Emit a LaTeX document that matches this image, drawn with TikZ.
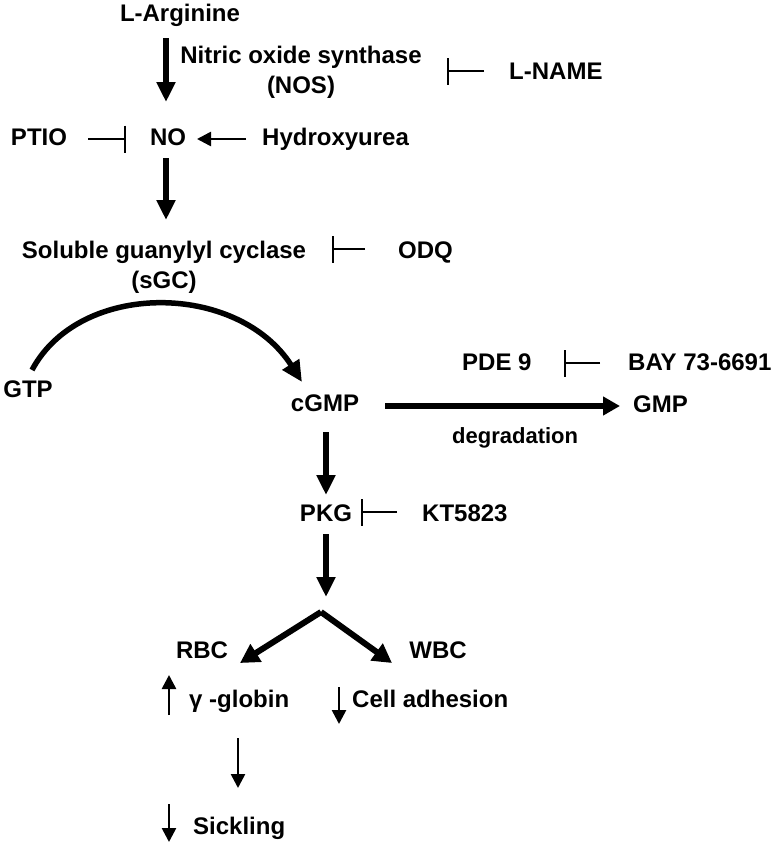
\documentclass[tikz,border=0pt]{standalone}
\usepackage{fontspec}
\setmainfont{Liberation Sans}
\usetikzlibrary{arrows.meta}
\begin{document}
\begin{tikzpicture}[x=1pt,y=-1pt,
  lbl/.style={font=\fontsize{24}{30}\selectfont\bfseries, inner sep=0pt, text height=17pt, text depth=0pt},
  small/.style={font=\fontsize{22}{26}\selectfont\bfseries, inner sep=0pt, text height=16pt, text depth=0pt},
  two/.style={font=\fontsize{24}{30}\selectfont\bfseries, inner sep=0pt, align=center},
  fat/.style={line width=6pt, -{Triangle[width=18pt,length=20pt]}},
  fatmid/.style={line width=6pt, -{Triangle[width=18pt,length=17pt]}},
  fork/.style={line width=6pt, -{Triangle[width=20pt,length=19pt]}},
  slim/.style={line width=2.6pt, -{Triangle[width=14pt,length=14pt]}},
  inh/.style={line width=2pt, -{Bar[width=27pt]}},
]
\useasboundingbox (0,0) rectangle (771,849);
\fill[white] (0,0) rectangle (771,849);

% nodes
\node[lbl] (larg) at (180,13) {L-Arginine};
\node[two, anchor=north] (nos) at (301,46) {Nitric oxide synthase\\(NOS)};
\node[lbl, anchor=west] (lname) at (509,71) {L-NAME};
\node[lbl] (ptio) at (39,137) {PTIO};
\node[lbl] (no) at (168,137) {NO};
\node[lbl, anchor=west] (hu) at (262,137) {Hydroxyurea};
\node[two, anchor=north] (sgc) at (164,241) {Soluble guanylyl cyclase\\(sGC)};
\node[lbl, anchor=west] (odq) at (398,250) {ODQ};
\node[lbl] (gtp) at (28,389) {GTP};
\node[lbl] (cgmp) at (325,403) {cGMP};
\node[lbl, anchor=west] (gmp) at (633,404) {GMP};
\node[small, anchor=west] (degr) at (452,435) {degradation};
\node[lbl, anchor=west] (pde) at (462,362) {PDE 9};
\node[lbl, anchor=west] (bay) at (628,362) {BAY 73-6691};
\node[lbl] (pkg) at (326,513) {PKG};
\node[lbl, anchor=west] (kt) at (422,513) {KT5823};
\node[lbl] (rbc) at (202,650) {RBC};
\node[lbl] (wbc) at (438,650) {WBC};
\node[lbl, anchor=west] (glob) at (189,699) {γ -globin};
\node[lbl, anchor=west] (adh) at (352,699) {Cell adhesion};
\node[lbl, anchor=west] (sick) at (193,826) {Sickling};

% helper coordinates
\coordinate (a1s) at (166,38);  \coordinate (a1e) at (166,102);
\coordinate (a2s) at (166,158); \coordinate (a2e) at (166,220);
\coordinate (lnameL) at (484,71); \coordinate (lnameB) at (447,71);
\coordinate (ptioR) at (88,139);  \coordinate (ptioB) at (126,139);
\coordinate (huL) at (246,139);   \coordinate (huT) at (197,139);
\coordinate (odqL) at (365,249);  \coordinate (odqB) at (332,249);
\coordinate (gtpT) at (32,370);   \coordinate (cgmpT) at (302,382);
\coordinate (dgs) at (385,406);   \coordinate (dge) at (620,406);
\coordinate (pdeL) at (600,363);  \coordinate (pdeB) at (564,363);
\coordinate (a3s) at (326,432);   \coordinate (a3e) at (326,495);
\coordinate (ktL) at (397,512);   \coordinate (ktB) at (361,512);
\coordinate (a4s) at (326,534);   \coordinate (a4e) at (326,597);
\coordinate (apex) at (321,612);
\coordinate (lt) at (240,663);    \coordinate (rt) at (392,663);
\coordinate (upS) at (169,715);   \coordinate (upE) at (169,675);
\coordinate (adS) at (339,687);   \coordinate (adE) at (339,724);
\coordinate (gsS) at (238,738);   \coordinate (gsE) at (238,788);
\coordinate (skS) at (169,804);   \coordinate (skE) at (169,842);

% connectors
\draw[fat] (a1s) -- (a1e);
\draw[fat] (a2s) -- (a2e);
\draw[inh] (lnameL) -- (lnameB);
\draw[inh] (ptioR) -- (ptioB);
\draw[slim] (huL) -- (huT);
\draw[inh] (odqL) -- (odqB);
\draw[line width=5.5pt, -{Triangle[width=19pt,length=21pt]}] (gtpT) .. controls (80,280) and (238,282) .. (cgmpT);
\draw[fatmid] (dgs) -- (dge);
\draw[inh] (pdeL) -- (pdeB);
\draw[fat] (a3s) -- (a3e);
\draw[inh] (ktL) -- (ktB);
\draw[fat] (a4s) -- (a4e);
\draw[fork] (apex) -- (lt);
\draw[fork] (apex) -- (rt);
\draw[slim] (upS) -- (upE);
\draw[slim] (adS) -- (adE);
\draw[slim] (gsS) -- (gsE);
\draw[slim] (skS) -- (skE);
\end{tikzpicture}
\end{document}
